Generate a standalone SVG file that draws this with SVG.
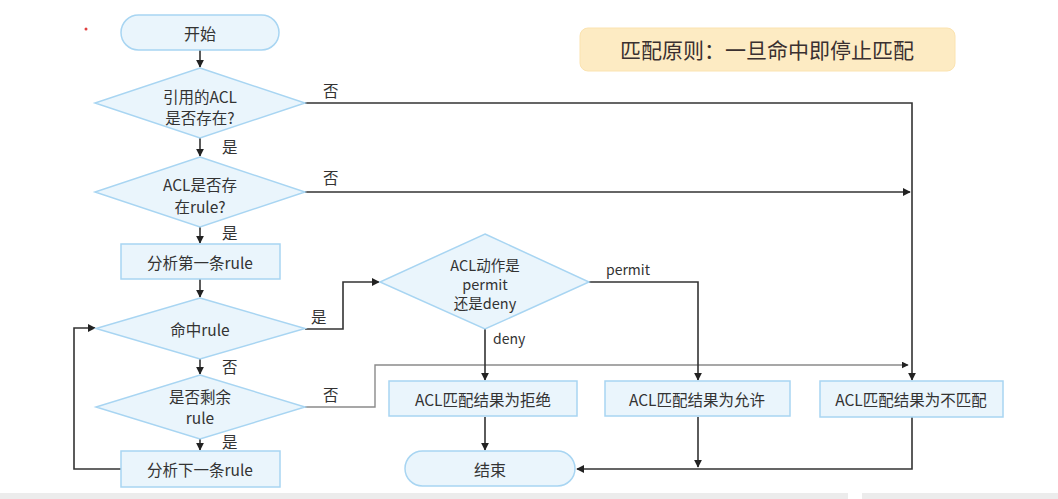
<svg xmlns="http://www.w3.org/2000/svg" width="1058" height="499" viewBox="0 0 1058 499">
<style>
.n{fill:#eaf5fc;stroke:#a8d5f2;stroke-width:1.5}
.t{font-family:"Noto Sans CJK SC","Noto Sans",sans-serif;font-size:15.5px;fill:#333;text-anchor:middle;dominant-baseline:central}
.l{font-family:"Noto Sans CJK SC","Noto Sans",sans-serif;font-size:15.5px;fill:#333;dominant-baseline:central}
.c{fill:none;stroke:#333;stroke-width:1.6}
.g{fill:none;stroke:#8a8a8a;stroke-width:1.4}
</style>
<defs>
<marker id="a" viewBox="0 0 10 10" refX="9" refY="5" markerWidth="5" markerHeight="5" orient="auto"><path d="M0,0L10,5L0,10z" fill="#222"/></marker>
</defs>
<rect width="1058" height="499" fill="#fff"/>
<rect x="0" y="493" width="848" height="6" fill="#ececec"/>
<rect x="862" y="493" width="196" height="6" fill="#ececec"/>
<circle cx="86" cy="29" r="1.5" fill="#e04040"/>
<g id="title"><rect x="580" y="28" width="375" height="43" rx="8" fill="#fdebc3" stroke="#fbe3b0"/><text x="767" y="49" class="t" style="font-size:21px;fill:#3a3030">匹配原则：一旦命中即停止匹配</text></g>
<g id="connectors">
<path class="c" d="M200,50V67" marker-end="url(#a)"/>
<path class="c" d="M200,138V156" marker-end="url(#a)"/>
<path class="c" d="M200,227V243" marker-end="url(#a)"/>
<path class="c" d="M200,279V297" marker-end="url(#a)"/>
<path class="c" d="M200,359V374" marker-end="url(#a)"/>
<path class="c" d="M200,439V450" marker-end="url(#a)"/>
<path class="c" d="M305,103H912V380" marker-end="url(#a)"/>
<path class="c" d="M305,192H910" marker-end="url(#a)"/>
<path class="c" d="M305,329H343V282H379" marker-end="url(#a)"/>
<path class="g" d="M305,407H375V365H908" marker-end="url(#a)"/>
<path class="c" d="M121,469H74V328H95" marker-end="url(#a)"/>
<path class="c" d="M589,282H698V380" marker-end="url(#a)"/>
<path class="c" d="M485,328V380" marker-end="url(#a)"/>
<path class="c" d="M485,417V450" marker-end="url(#a)"/>
<path class="c" d="M698,417V467" marker-end="url(#a)"/>
<path class="c" d="M912,417V469H577" marker-end="url(#a)"/>
<text x="323" y="90" class="l">否</text>
<text x="323" y="177" class="l">否</text>
<text x="222" y="146" class="l">是</text>
<text x="222" y="232" class="l">是</text>
<text x="311" y="316" class="l">是</text>
<text x="222" y="366" class="l">否</text>
<text x="323" y="394" class="l">否</text>
<text x="222" y="441" class="l">是</text>
<text x="606" y="269" class="l" style="font-size:14px">permit</text>
<text x="493" y="338" class="l" style="font-size:14px">deny</text>
</g>
<g id="start"><rect x="121" y="15" width="158" height="35" rx="17.5" class="n"/><text x="200" y="33" class="t" style="font-size:16px">开始</text></g>
<g id="d1"><polygon points="200,68 305,103 200,138 95,103" class="n"/><text x="200" y="96" class="t">引用的ACL</text><text x="200" y="117" class="t">是否存在?</text></g>
<g id="d2"><polygon points="200,157 305,192 200,227 95,192" class="n"/><text x="200" y="184" class="t">ACL是否存</text><text x="200" y="206" class="t">在rule?</text></g>
<g id="first"><rect x="121" y="244" width="159" height="35" class="n"/><text x="200" y="262" class="t">分析第一条rule</text></g>
<g id="d3"><polygon points="200,298 305,328.5 200,359 96,328.5" class="n"/><text x="200" y="329" class="t">命中rule</text></g>
<g id="d4"><polygon points="200,375 305,407 200,439 96,407" class="n"/><text x="200" y="396" class="t">是否剩余</text><text x="200" y="417" class="t">rule</text></g>
<g id="next"><rect x="121" y="451" width="159" height="36" class="n"/><text x="200" y="469" class="t">分析下一条rule</text></g>
<g id="d5"><polygon points="485,234 589,282 485,329 380,282" class="n"/><text x="485" y="264" class="t" style="font-size:14.5px">ACL动作是</text><text x="485" y="283" class="t" style="font-size:14.5px">permit</text><text x="485" y="302" class="t" style="font-size:14.5px">还是deny</text></g>
<g id="deny"><rect x="389" y="381" width="188" height="35" class="n"/><text x="483" y="399" class="t">ACL匹配结果为拒绝</text></g>
<g id="permit"><rect x="605" y="381" width="185" height="35" class="n"/><text x="697" y="399" class="t">ACL匹配结果为允许</text></g>
<g id="nomatch"><rect x="820" y="381" width="183" height="36" class="n"/><text x="911" y="399" class="t">ACL匹配结果为不匹配</text></g>
<g id="end"><rect x="405" y="451" width="170" height="35" rx="17.5" class="n"/><text x="490" y="469" class="t" style="font-size:16px">结束</text></g>
</svg>
